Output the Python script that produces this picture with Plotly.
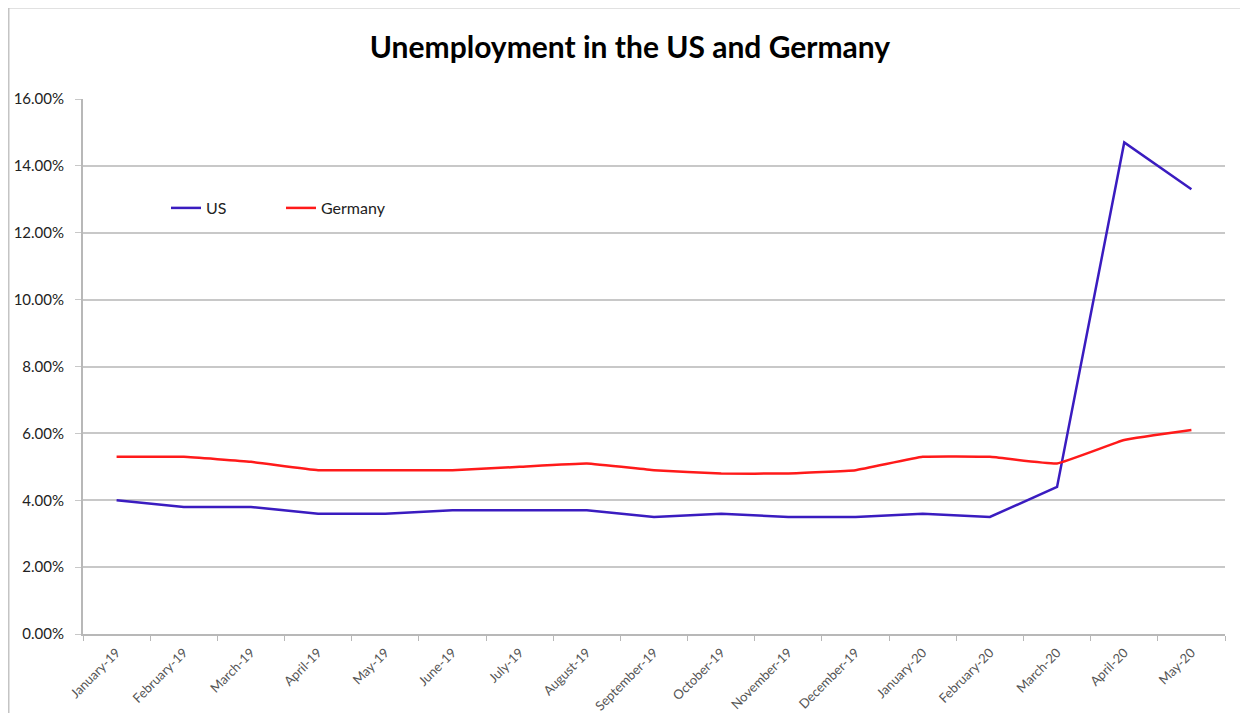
import plotly.graph_objects as go

months = ["January-19", "February-19", "March-19", "April-19", "May-19", "June-19",
          "July-19", "August-19", "September-19", "October-19", "November-19",
          "December-19", "January-20", "February-20", "March-20", "April-20", "May-20"]
us = [4.0, 3.8, 3.8, 3.6, 3.6, 3.7, 3.7, 3.7, 3.5, 3.6, 3.5, 3.5, 3.6, 3.5, 4.4, 14.7, 13.3]
germany = [5.3, 5.3, 5.15, 4.9, 4.9, 4.9, 5.0, 5.1, 4.9, 4.8, 4.8, 4.9, 5.3, 5.3, 5.1, 5.8, 6.1]
y_ticks = [0, 2, 4, 6, 8, 10, 12, 14, 16]
y_tick_labels = [f"{v:.2f}%" for v in y_ticks]

W, H = 1248, 713
OFF = 8  # page body margin offset
# target plot area in window coordinates: x 83..1225, y 99..634
PL, PR, PT, PB = 83, 1225, 99, 634
L = PL - OFF
T = PT - OFF
R = W - L - (PR - PL)
B = H - T - (PB - PT)

pw = PR - PL
ph = PB - PT
def px(x):
    return (x - PL) / pw
def py(y):
    return (PB - y) / ph

fig = go.Figure()
fig.add_trace(go.Scatter(x=months, y=us, name="US", mode="lines",
                         line=dict(color="#3a1cc0", width=2.5)))
fig.add_trace(go.Scatter(x=months, y=germany, name="Germany", mode="lines",
                         line=dict(color="#ff1a1a", width=2.5, shape="spline", smoothing=0.3)))

fig.update_layout(
    width=W, height=H,
    margin=dict(l=L, r=R, t=T, b=B, autoexpand=False),
    paper_bgcolor="white", plot_bgcolor="white",
    title=dict(text="<b>Unemployment in the US and Germany</b>", x=(630 - OFF) / W, xanchor="center",
               y=1 - (47 - OFF) / H, yanchor="middle",
               font=dict(family="Lato, Open Sans, sans-serif", size=30, color="black")),
    font=dict(family="Lato, Open Sans, sans-serif"),
    showlegend=True,
    legend=dict(orientation="h", x=px(166), y=py(208), xanchor="left", yanchor="middle",
                bgcolor="rgba(0,0,0,0)", font=dict(size=16, color="#222"),
                itemwidth=30, traceorder="normal", entrywidth=70),
    xaxis=dict(type="category", range=[-0.5, 16.5], showgrid=False, automargin=False,
               showline=True, linecolor="#b8b8b8", linewidth=2,
               ticks="outside", tickson="boundaries", ticklen=5, tickcolor="#b8b8b8",
               ticklabelstandoff=4,
               tickangle=-45, tickfont=dict(size=13, color="#555")),
    yaxis=dict(range=[0, 16], tickvals=y_ticks, ticktext=y_tick_labels, automargin=False,
               showgrid=True, gridcolor="#c8c8c8", gridwidth=2,
               showline=True, linecolor="#b8b8b8", linewidth=2,
               ticks="outside", ticklen=6, tickcolor="#c8c8c8",
               ticklabelstandoff=8,
               tickfont=dict(size=15, color="#222"), zeroline=False),
    shapes=[
        dict(type="line", xref="paper", yref="paper", x0=px(8), x1=px(1270), y0=py(7), y1=py(7),
             line=dict(color="#c4c4c4", width=3)),
        dict(type="line", xref="paper", yref="paper", x0=px(8), x1=px(8), y0=py(7), y1=py(730),
             line=dict(color="#c4c4c4", width=3)),
    ],
)

fig.write_html("out.html")
